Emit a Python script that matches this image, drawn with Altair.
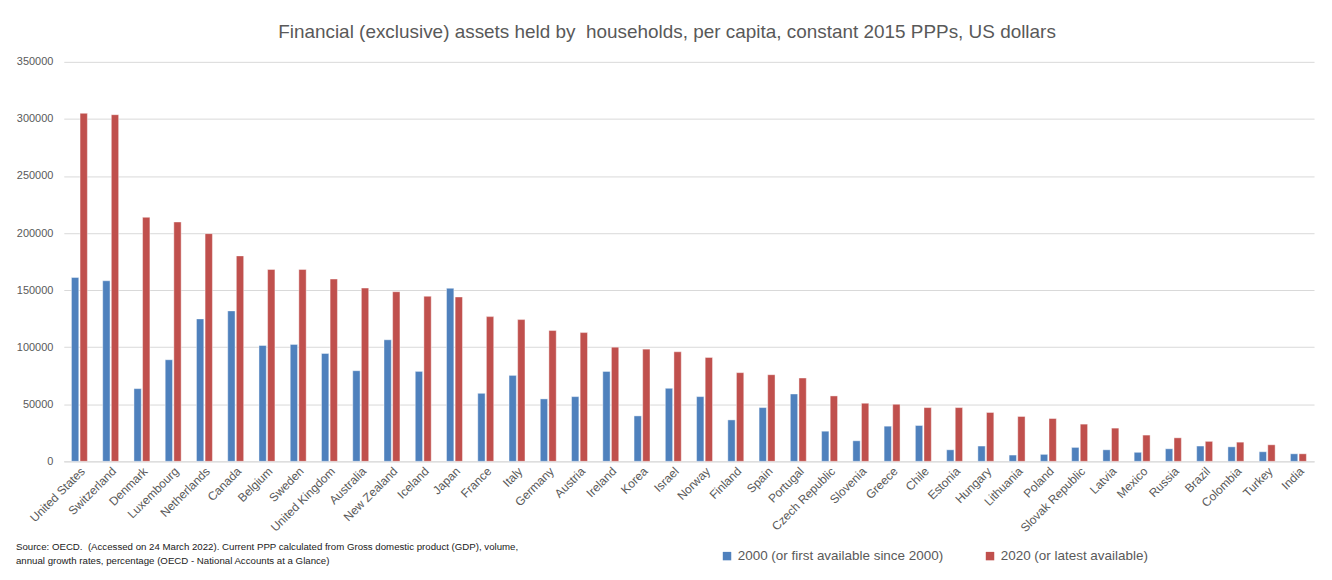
import altair as alt
import pandas as pd

countries = ["United States", "Switzerland", "Denmark", "Luxembourg", "Netherlands", "Canada",
             "Belgium", "Sweden", "United Kingdom", "Australia", "New Zealand", "Iceland", "Japan",
             "France", "Italy", "Germany", "Austria", "Ireland", "Korea", "Israel", "Norway",
             "Finland", "Spain", "Portugal", "Czech Republic", "Slovenia", "Greece", "Chile",
             "Estonia", "Hungary", "Lithuania", "Poland", "Slovak Republic", "Latvia", "Mexico",
             "Russia", "Brazil", "Colombia", "Turkey", "India"]

v2000 = [161100, 158200, 63700, 89000, 124800, 131800, 101500, 102400, 94500, 79400, 106500,
         78800, 151600, 59600, 75300, 54700, 56700, 78800, 39800, 64000, 56700, 36300, 47100,
         59000, 26400, 18000, 30800, 31400, 10100, 13400, 5500, 6100, 12200, 10100, 7900, 11000,
         13400, 12700, 8400, 6600]

v2020 = [304900, 303700, 213800, 209700, 199500, 180000, 168100, 168100, 159700, 151800, 148600,
         144600, 144000, 126800, 124200, 114600, 112800, 100000, 98300, 96000, 91000, 77700, 75900,
         73000, 57300, 50900, 50000, 47100, 47100, 42800, 39300, 37500, 32600, 29100, 23000, 20600,
         17500, 16800, 14500, 6600]

series = ["2000 (or first available since 2000)", "2020 (or latest available)"]
colors = ["#4F81BD", "#C0504D"]

title_text = "Financial (exclusive) assets held by\u00a0 households, per capita, constant 2015 PPPs, US dollars"
source_text = ("Source: OECD.\u00a0 (Accessed on 24 March 2022). Current PPP calculated from Gross domestic product (GDP), volume,\n"
               "annual growth rates, percentage (OECD - National Accounts at a Glance)")

rows = []
for c, a, b in zip(countries, v2000, v2020):
    rows.append({"country": c, "series": series[0], "value": a})
    rows.append({"country": c, "series": series[1], "value": b})
df = pd.DataFrame(rows)

FONT = "Liberation Sans"
GREY = "#595959"

bars = alt.Chart(df).mark_bar(stroke="white", strokeWidth=0.6, strokeOpacity=0.7).encode(
    x=alt.X("country:N", sort=countries, title=None,
            scale=alt.Scale(paddingInner=0.49, paddingOuter=0.245),
            axis=alt.Axis(labelAngle=-45, labelFontSize=12, labelColor=GREY, labelFont=FONT,
                          ticks=False, domain=True, domainColor="#d9d9d9", labelPadding=4,
                          labelOverlap=False)),
    xOffset=alt.XOffset("series:N", sort=series,
                        scale=alt.Scale(paddingInner=0.15, paddingOuter=0)),
    y=alt.Y("value:Q", title=None,
            scale=alt.Scale(domain=[0, 350000], nice=False),
            axis=alt.Axis(values=list(range(0, 350001, 50000)), format="d", labelFontSize=11,
                          labelColor=GREY, labelFont=FONT, ticks=False, domain=False,
                          gridColor="#d9d9d9", gridWidth=1, labelPadding=11)),
    color=alt.Color("series:N", sort=series,
                    scale=alt.Scale(domain=series, range=colors),
                    legend=alt.Legend(title=None, orient="none", legendX=659, legendY=489,
                                      direction="horizontal", symbolType="square", symbolSize=72,
                                      symbolStrokeWidth=0, labelFontSize=13.5, labelColor=GREY,
                                      labelFont=FONT, columnPadding=40, labelOffset=4, padding=0,
                                      labelLimit=0)),
)

src = alt.Chart(pd.DataFrame({"t": [source_text]})).mark_text(
    align="left", baseline="alphabetic", fontSize=9.7, font=FONT, color="#1a1a1a",
    lineBreak="\n", lineHeight=14
).encode(text="t:N", x=alt.value(-48), y=alt.value(490))

chart = alt.layer(bars, src).properties(
    width=1255, height=401,
    title=alt.TitleParams(title_text, anchor="middle", dx=-22, fontSize=19, font=FONT,
                          color=GREY, fontWeight="normal", offset=14),
    autosize=alt.AutoSizeParams(type="none"),
    padding={"left": 56, "top": 53, "right": 10, "bottom": 105},
).configure_view(stroke=None)

chart.save("out.html", embed_options={"renderer": "svg", "actions": False})
